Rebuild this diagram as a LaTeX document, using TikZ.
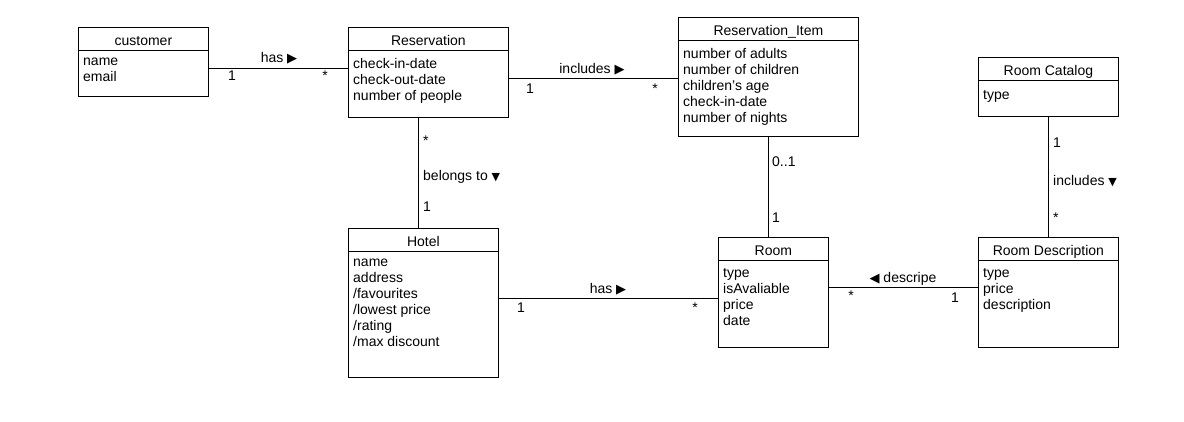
\documentclass[tikz,border=0pt]{standalone}
\usepackage{fontspec}
\setmainfont{Liberation Sans}
\newfontfamily\symfont{DejaVu Sans}
\newcommand{\rtri}{{\symfont\fontsize{13}{13}\selectfont ▶}}
\newcommand{\dtri}{{\symfont\fontsize{11}{11}\selectfont ▼}}
\newcommand{\ltri}{{\symfont\fontsize{13}{13}\selectfont ◀}}
\tikzset{every picture/.style={x=1pt,y=-1pt}}
\tikzset{cls/.style={draw,rectangle,anchor=north west,inner sep=0pt,line width=.8pt}}
\tikzset{ctitle/.style={anchor=base,inner sep=0pt,font=\fontsize{14}{16}\selectfont}}
\tikzset{attrs/.style={anchor=north west,inner sep=0pt,align=left,font=\fontsize{14}{16}\selectfont,execute at begin node=\strut}}
\tikzset{assoc/.style={line width=.8pt}}
\tikzset{annot/.style={inner sep=0pt,font=\fontsize{14}{16}\selectfont}}

\begin{document}
\begin{tikzpicture}
\useasboundingbox (0,0) rectangle (1184,421);

\node [cls,minimum width=130,minimum height=69] (cust) at (78,27) {};
\node [cls,minimum width=160,minimum height=90] (res) at (348,27) {};
\node [cls,minimum width=180,minimum height=119] (item) at (678,17) {};
\node [cls,minimum width=140,minimum height=59] (cat) at (978,57) {};
\node [cls,minimum width=150,minimum height=149] (hotel) at (348,228) {};
\node [cls,minimum width=110,minimum height=110] (room) at (718,237) {};
\node [cls,minimum width=140,minimum height=110] (desc) at (978,237) {};

\foreach \c in {cust,res,item,cat,hotel,room,desc}
  \draw [assoc] ([yshift=-23pt]\c.north west) -- ([yshift=-23pt]\c.north east);

\node [ctitle] (custt) at ([yshift=-18pt]cust.north) {customer};
\node [ctitle] (rest) at ([yshift=-18pt]res.north) {Reservation};
\node [ctitle] (itemt) at ([yshift=-18pt]item.north) {Reservation\_Item};
\node [ctitle] (catt) at ([yshift=-18pt]cat.north) {Room Catalog};
\node [ctitle] (hotelt) at ([yshift=-18pt]hotel.north) {Hotel};
\node [ctitle] (roomt) at ([yshift=-18pt]room.north) {Room};
\node [ctitle] (desct) at ([yshift=-18pt]desc.north) {Room Description};

\node [attrs] (custa) at ([xshift=5pt,yshift=-31pt]cust.north west) {name\\email};
\node [attrs] (resa) at ([xshift=5pt,yshift=-31pt]res.north west) {check-in-date\\check-out-date\\number of people};
\node [attrs] (itema) at ([xshift=5pt,yshift=-31pt]item.north west) {number of adults\\number of children\\children's age\\check-in-date\\number of nights};
\node [attrs] (cata) at ([xshift=5pt,yshift=-31pt]cat.north west) {type};
\node [attrs] (hotela) at ([xshift=5pt,yshift=-31pt]hotel.north west) {name\\address\\/favourites\\/lowest price\\/rating\\/max discount};
\node [attrs] (rooma) at ([xshift=5pt,yshift=-31pt]room.north west) {type\\isAvaliable\\price\\date};
\node [attrs] (desca) at ([xshift=5pt,yshift=-31pt]desc.north west) {type\\price\\description};

\draw [assoc] (cust.east |- 0,68) -- (res.west |- 0,68);
\draw [assoc] (res.east |- 0,78) -- (item.west |- 0,78);
\draw [assoc] (res.south -| 418,0) -- (hotel.north -| 418,0);
\draw [assoc] (item.south) -- (room.north -| item.south);
\draw [assoc] (hotel.east |- 0,298) -- (room.west |- 0,298);
\draw [assoc] (room.east |- 0,287) -- (desc.west |- 0,287);
\draw [assoc] (cat.south) -- (desc.north);

\node [annot,anchor=base] (l1) at (279,62) {has \rtri};
\node [annot,anchor=base] (l1a) at (232,80) {1};
\node [annot,anchor=base] (l1b) at (325,80) {*};

\node [annot,anchor=base] (l2) at (592,73) {includes \rtri};
\node [annot,anchor=base] (l2a) at (530,93) {1};
\node [annot,anchor=base] (l2b) at (655,93) {*};

\node [annot,anchor=base west] (l3) at (423,180) {belongs to \dtri};
\node [annot,anchor=base west] (l3a) at (423,145) {*};
\node [annot,anchor=base west] (l3b) at (423,211) {1};

\node [annot,anchor=base west] (l4a) at (772,166) {0..1};
\node [annot,anchor=base west] (l4b) at (772,222) {1};

\node [annot,anchor=base] (l5) at (608,293) {has \rtri};
\node [annot,anchor=base] (l5a) at (521,312) {1};
\node [annot,anchor=base] (l5b) at (695,312) {*};

\node [annot,anchor=base] (l6) at (903,282) {\ltri{} descripe};
\node [annot,anchor=base] (l6a) at (851,300) {*};
\node [annot,anchor=base] (l6b) at (955,302) {1};

\node [annot,anchor=base west] (l7) at (1053,185) {includes \dtri};
\node [annot,anchor=base west] (l7a) at (1053,147) {1};
\node [annot,anchor=base west] (l7b) at (1053,222) {*};
\end{tikzpicture}
\end{document}
